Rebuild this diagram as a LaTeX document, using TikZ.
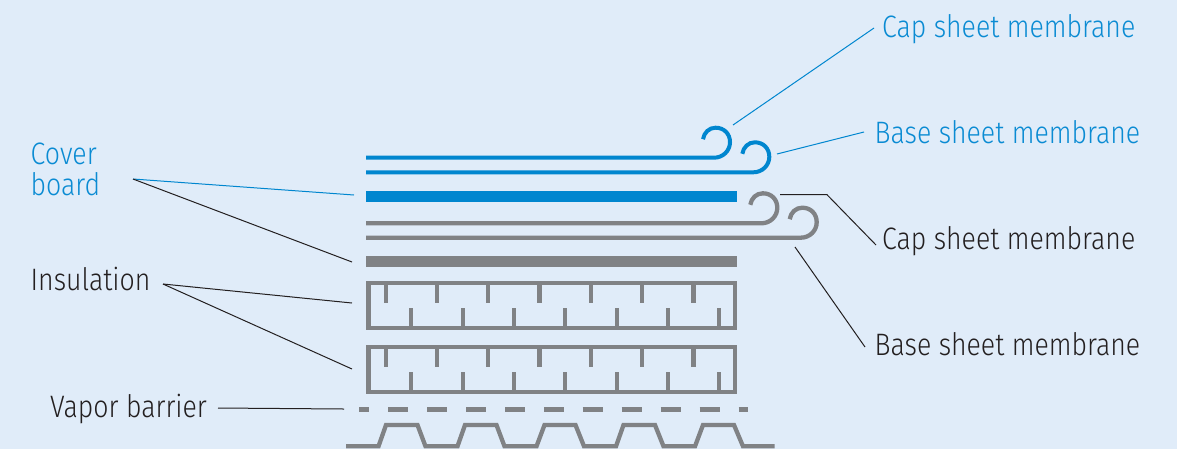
\documentclass[tikz,border=0pt]{standalone}
\usepackage{fontspec}
\setmainfont[FakeStretch=0.86]{Fira Sans Light}
\definecolor{bgc}{HTML}{E0ECF9}
\definecolor{bluec}{HTML}{0086CF}
\definecolor{greyc}{HTML}{808285}
\definecolor{inkc}{HTML}{231F20}
\definecolor{txtblue}{HTML}{0A8BD3}
\tikzset{
  lay/.style={line width=4pt,draw=#1},
  graylay/.style={line width=4.3pt,draw=greyc},
  lead/.style={line width=1pt,draw=#1},
  lbl/.style={font=\fontsize{31}{36}\selectfont,inner sep=0pt,anchor=base west,text=#1},
  slab/.style={fill=#1,draw=none}
}
\newcommand{\curl}[4]{% x of right extreme, y of line, colour, width
  \draw[lay=#3,line width=#4,line cap=butt] (366,#2) -- (#1-16,#2)
    .. controls (#1-7,#2) and (#1,#2-7) .. (#1,#2-15.5)
    .. controls (#1,#2-24) and (#1-6,#2-30) .. (#1-14.5,#2-30)
    .. controls (#1-21,#2-30) and (#1-26,#2-25) .. (#1-27,#2-18.5);
}
\newcommand{\insul}[2]{% top centre y, bottom centre y
  \draw[graylay] (368.5,#1) rectangle (735,#2);
  \foreach \tx in {385.7,437,488.3,539.6,591,642.3,693.5}
    \draw[graylay] (\tx,#1) -- (\tx,#1+19.7);
  \foreach \tx in {411.3,462.7,514,565.3,616.7,668,719.3}
    \draw[graylay] (\tx,#2) -- (\tx,#2-20);
}
\begin{document}
\begin{tikzpicture}[x=1pt,y=-1pt]
\useasboundingbox (0,0) rectangle (1177,448);
\fill[bgc] (-2,-2) rectangle (1179,450);
% membranes
\curl{730}{157.7}{bluec}{4pt}
\curl{769.3}{172.3}{bluec}{4pt}
\curl{777.3}{223.3}{greyc}{4.3pt}
\curl{816.7}{237.7}{greyc}{4.3pt}
% boards
\node[slab=bluec,minimum width=371pt,minimum height=10.6pt,inner sep=0pt,anchor=north west] (coverblue) at (366,191) {};
\node[slab=greyc,minimum width=371pt,minimum height=10.6pt,inner sep=0pt,anchor=north west] (covergrey) at (366,256) {};
\insul{283}{328}
\insul{347.3}{392.3}
% vapor barrier
\foreach \a/\b in {359/369,388/408,427/447,466/486,505/525,544/564,582.5/602.5,621.5/641.5,660.5/680.5,699.5/719.5,738.5/748}
  \draw[graylay,line width=4.5pt] (\a,409.3) -- (\b,409.3);
% deck
\draw[graylay,line join=miter] (346,446.3) -- (378.5,446.3) -- (386,425) -- (417.5,425) -- (425.5,446.3)
  -- (457.5,446.3) -- (465,425) -- (496.5,425) -- (504.5,446.3) -- (536.5,446.3) -- (544.5,425) -- (575.5,425) -- (584,446.3)
  -- (616,446.3) -- (623.5,425) -- (655,425) -- (663.5,446.3) -- (695,446.3) -- (703,425) -- (734,425) -- (743,446.3) -- (774.5,446.3);
% labels
\node[lbl=txtblue] (capblue) at (882,37) {Cap sheet membrane};
\node[lbl=txtblue] (baseblue) at (874.5,143) {Base sheet membrane};
\node[lbl=inkc] (capgrey) at (882,249) {Cap sheet membrane};
\node[lbl=inkc] (basegrey) at (874.5,355) {Base sheet membrane};
\node[lbl=txtblue] (cov1) at (30.5,164) {Cover};
\node[lbl=txtblue] (cov2) at (30.5,195) {board};
\node[lbl=inkc] (ins) at (30.5,290) {Insulation};
\node[lbl=inkc] (vap) at (50,417) {Vapor barrier};
% leaders
\coordinate (a1) at (874,28); \coordinate (a2) at (733,125);
\coordinate (b1) at (864,132); \coordinate (b2) at (777,154);
\coordinate (c1) at (780,194.7); \coordinate (c2) at (827,194.7); \coordinate (c3) at (876,245);
\coordinate (d1) at (795,247); \coordinate (d2) at (865,347);
\coordinate (e) at (133,179); \coordinate (e1) at (354,195); \coordinate (e2) at (352,262);
\coordinate (f) at (163,284); \coordinate (f1) at (352,303); \coordinate (f2) at (352,369);
\coordinate (g1) at (218,408); \coordinate (g2) at (344,409);
\draw[lead=bluec] (a1) -- (a2);
\draw[lead=bluec] (b1) -- (b2);
\draw[lead=inkc] (c1) -- (c2) -- (c3);
\draw[lead=inkc] (d1) -- (d2);
\draw[lead=bluec] (e) -- (e1);
\draw[lead=inkc] (e) -- (e2);
\draw[lead=inkc] (f) -- (f1);
\draw[lead=inkc] (f) -- (f2);
\draw[lead=inkc] (g1) -- (g2);
\end{tikzpicture}
\end{document}
